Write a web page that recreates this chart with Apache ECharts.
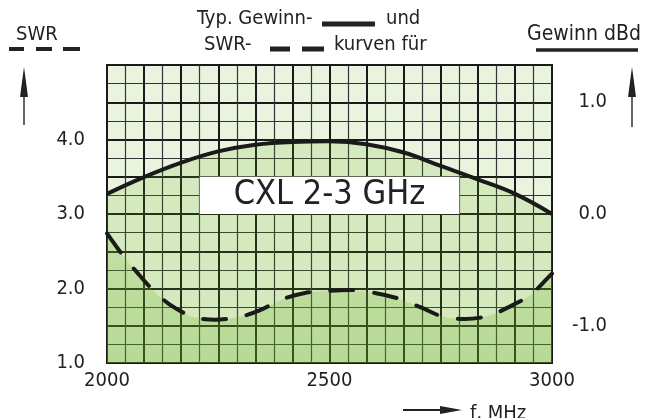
<!DOCTYPE html>
<html>
<head>
<meta charset="UTF-8">
<title>CXL 2-3 GHz</title>
<script src="https://cdn.jsdelivr.net/npm/echarts@6/dist/echarts.min.js"></script>
<style>
  html, body { margin: 0; padding: 0; background: #fff; }
  #chart { width: 653px; height: 418px; }
</style>
</head>
<body>
<div id="chart"></div>
<script>
// Gewinn (dBd) - rechte Achse
var gainFreq = [2000, 2083, 2167, 2250, 2333, 2417, 2500, 2583, 2667, 2750, 2833, 2917, 3000];
var gainVals = [0.18, 0.33, 0.46, 0.56, 0.62, 0.645, 0.65, 0.625, 0.55, 0.43, 0.31, 0.18, 0.0];

// SWR - linke Achse
var swrFreq = [2000, 2035, 2067, 2103, 2142, 2193, 2243, 2299, 2344, 2396, 2445, 2500, 2546, 2602, 2652, 2708, 2755, 2804, 2856, 2906, 2951, 2990, 3000];
var swrVals = [2.74, 2.45, 2.22, 1.98, 1.78, 1.62, 1.58, 1.62, 1.71, 1.86, 1.94, 1.97, 1.98, 1.94, 1.87, 1.74, 1.62, 1.59, 1.63, 1.76, 1.91, 2.14, 2.2];

// Beschriftung / Achsen
var xLabels = [2000, 2500, 3000];
var swrLabels = [1, 2, 3, 4];
var gainLabels = [-1, 0, 1];
var boxFreq = [2000 + 2.5 * 1000 / 12, 2000 + 9.5 * 1000 / 12];
var boxSwr = [3.0, 3.5];

var font = '"DejaVu Sans Condensed", "DejaVu Sans", sans-serif';
var ink = '#222';

function zip(a, b) {
  var out = [];
  for (var i = 0; i < a.length; i++) out.push([a[i], b[i]]);
  return out;
}
function near(list, v) {
  for (var i = 0; i < list.length; i++) {
    if (Math.abs(list[i] - v) < 1e-6) return true;
  }
  return false;
}

var chart = echarts.init(document.getElementById('chart'));

var option = {
  animation: false,
  textStyle: { fontFamily: font },
  grid: {
    left: 107, right: 101, top: 65, bottom: 55,
    show: true, backgroundColor: '#e9f3dd', borderColor: '#1a1a1a', borderWidth: 2
  },
  xAxis: {
    type: 'value', min: 2000, max: 3000, interval: 1000 / 12,
    axisLine: { show: false }, axisTick: { show: false },
    axisLabel: {
      margin: 8, fontSize: 20, color: ink, fontFamily: font,
      formatter: function (v) { return near(xLabels, v) ? String(Math.round(v)) : ''; }
    },
    splitLine: { show: true, lineStyle: { color: '#1a1a1a', width: 2 } },
    minorTick: { show: false, splitNumber: 2 },
    minorSplitLine: { show: true, lineStyle: { color: '#333', width: 1.2 } }
  },
  yAxis: [{
    type: 'value', min: 1, max: 5, interval: 0.5,
    axisLine: { show: false }, axisTick: { show: false },
    axisLabel: {
      margin: 22, fontSize: 20, color: ink, fontFamily: font,
      formatter: function (v) { return near(swrLabels, v) ? v.toFixed(1) : ''; }
    },
    splitLine: { show: true, lineStyle: { color: '#1a1a1a', width: 2 } },
    minorTick: { show: false, splitNumber: 2 },
    minorSplitLine: { show: true, lineStyle: { color: '#333', width: 1.2 } }
  }, {
    type: 'value', min: -4 / 3, max: 4 / 3, interval: 1 / 3, position: 'right',
    axisLine: { show: false }, axisTick: { show: false }, splitLine: { show: false },
    axisLabel: {
      margin: 55, align: 'right', fontSize: 20, color: ink, fontFamily: font,
      formatter: function (v) { return near(gainLabels, v) ? Math.round(v).toFixed(1) : ''; }
    }
  }],
  series: [{
    name: 'Gewinn',
    type: 'line', yAxisIndex: 1, smooth: 0.4, symbol: 'none',
    data: zip(gainFreq, gainVals),
    lineStyle: { color: '#1a1a1a', width: 4 },
    areaStyle: { origin: 'start', color: 'rgba(110,180,40,0.23)' },
    z: 3
  }, {
    name: 'SWR',
    type: 'line', yAxisIndex: 0, smooth: 0.3, symbol: 'none',
    data: zip(swrFreq, swrVals),
    lineStyle: { color: '#1a1a1a', width: 4, type: [23, 21], cap: 'round' },
    areaStyle: {
      origin: 'start',
      color: new echarts.graphic.LinearGradient(0, 0, 0, 1, [
        { offset: 0, color: 'rgba(110,180,40,0.26)' },
        { offset: 1, color: 'rgba(100,175,35,0.38)' }
      ])
    },
    z: 4
  }, {
    // Typenschild im Diagramm
    name: 'Typ',
    type: 'line', yAxisIndex: 0, data: [], symbol: 'none',
    markArea: {
      silent: true,
      z: 10,
      itemStyle: { color: '#ffffff', opacity: 1 },
      label: {
        show: true, position: 'inside', formatter: 'CXL 2-3 GHz',
        fontSize: 34, color: ink, fontFamily: font
      },
      data: [[{ xAxis: boxFreq[0], yAxis: boxSwr[0] }, { xAxis: boxFreq[1], yAxis: boxSwr[1] }]]
    },
    z: 10
  }],
  graphic: [
    // links oben: SWR
    { type: 'text', left: 16, top: 25, style: { text: 'SWR', font: '20px ' + font, fill: ink } },
    { type: 'line', shape: { x1: 9, y1: 49, x2: 24, y2: 49 }, style: { stroke: ink, lineWidth: 4 } },
    { type: 'line', shape: { x1: 36, y1: 49, x2: 52, y2: 49 }, style: { stroke: ink, lineWidth: 4 } },
    { type: 'line', shape: { x1: 63, y1: 49, x2: 80, y2: 49 }, style: { stroke: ink, lineWidth: 4 } },
    { type: 'line', shape: { x1: 24, y1: 125, x2: 24, y2: 90 }, style: { stroke: '#333', lineWidth: 1.5 } },
    { type: 'polygon', shape: { points: [[24, 67], [20, 97], [28, 97]] }, style: { fill: ink } },
    // rechts oben: Gewinn dBd
    { type: 'text', left: 527, top: 24, style: { text: 'Gewinn dBd', font: '21px ' + font, fill: ink } },
    { type: 'line', shape: { x1: 536, y1: 50, x2: 638, y2: 50 }, style: { stroke: ink, lineWidth: 3.5 } },
    { type: 'line', shape: { x1: 632, y1: 127, x2: 632, y2: 90 }, style: { stroke: '#333', lineWidth: 1.5 } },
    { type: 'polygon', shape: { points: [[632, 67], [628, 97], [636, 97]] }, style: { fill: ink } },
    // Mitte oben
    { type: 'text', left: 197, top: 9, style: { text: 'Typ. Gewinn-', font: '20px ' + font, fill: ink } },
    { type: 'line', shape: { x1: 322, y1: 24, x2: 375, y2: 24 }, style: { stroke: ink, lineWidth: 5 } },
    { type: 'text', left: 386, top: 9, style: { text: 'und', font: '20px ' + font, fill: ink } },
    { type: 'text', left: 204, top: 35, style: { text: 'SWR-', font: '20px ' + font, fill: ink } },
    { type: 'line', shape: { x1: 270, y1: 49, x2: 290, y2: 49 }, style: { stroke: ink, lineWidth: 5 } },
    { type: 'line', shape: { x1: 302, y1: 49, x2: 324, y2: 49 }, style: { stroke: ink, lineWidth: 5 } },
    { type: 'text', left: 334, top: 35, style: { text: 'kurven für', font: '20px ' + font, fill: ink } },
    // unten: f, MHz
    { type: 'line', shape: { x1: 403, y1: 410, x2: 445, y2: 410 }, style: { stroke: ink, lineWidth: 1.8 } },
    { type: 'polygon', shape: { points: [[462, 410], [440, 406], [440, 414]] }, style: { fill: ink } },
    { type: 'text', left: 470, top: 404, style: { text: 'f, MHz', font: '20px ' + font, fill: ink } }
  ]
};

chart.setOption(option);
</script>
</body>
</html>
